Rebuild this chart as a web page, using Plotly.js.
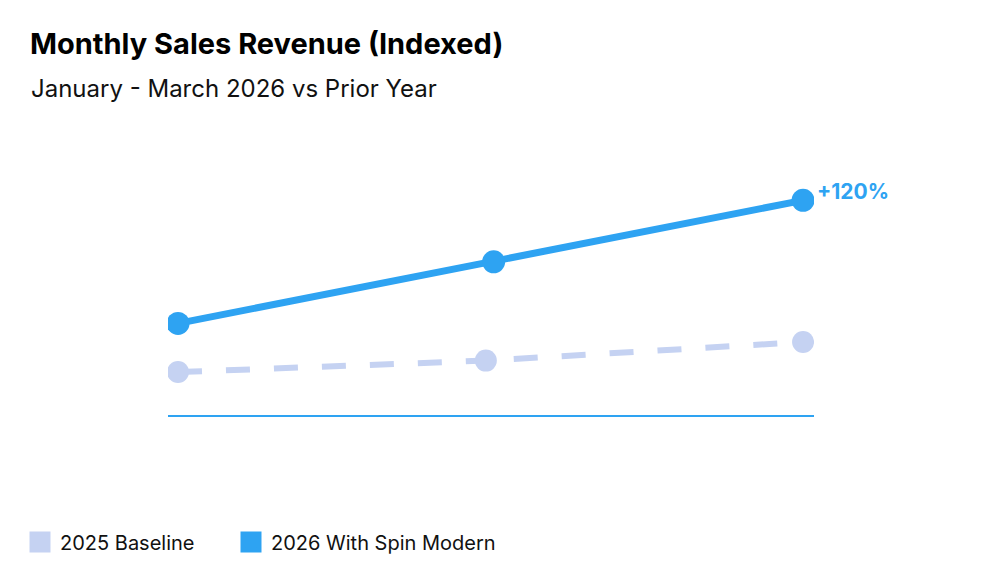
<!DOCTYPE html>
<html>
<head>
<meta charset="utf-8">
<script src="https://cdn.plot.ly/plotly-3.0.1.min.js"></script>
<style>
  html, body { margin: 0; padding: 0; background: #ffffff; }
  #chart { width: 998px; height: 581px; }
</style>
</head>
<body>
<div id="chart"></div>
<script>
// ---- data ----
var months = ["Jan", "Feb", "Mar"];
var baselineX = [0, 0.985, 2];          // plotted positions of the 2025 points
var growthX = [0, 1.01, 2];             // plotted positions of the 2026 points
var baseline2025 = [100, 108, 121];     // 2025 Baseline (indexed)
var growth2026 = [134, 177, 220];       // 2026 With Spin Modern (indexed)
var seriesNames = ["2025 Baseline", "2026 With Spin Modern"];
var endLabel = "+120%";

var baseColor = "#c5d2f2";
var growColor = "#2ea3f2";
var textFont = "Inter, 'Noto Sans', sans-serif";

var traces = [
  {
    x: baselineX, y: baseline2025, text: months,
    type: "scatter", mode: "lines+markers",
    name: seriesNames[0], legendgroup: "b", showlegend: false,
    line: { color: baseColor, width: 6, dash: "24px,24px" },
    marker: { color: baseColor, size: 22 },
    hoverinfo: "text+y"
  },
  {
    x: growthX, y: growth2026, text: months,
    type: "scatter", mode: "lines+markers",
    name: seriesNames[1], legendgroup: "g", showlegend: false,
    line: { color: growColor, width: 7 },
    marker: { color: growColor, size: 23 },
    hoverinfo: "text+y"
  },
  // legend swatches
  {
    x: [null], y: [null], type: "scatter", mode: "markers",
    name: seriesNames[0], legendgroup: "b", legend: "legend",
    marker: { color: baseColor, symbol: "square", size: 16, line: { color: baseColor, width: 5 } }
  },
  {
    x: [null], y: [null], type: "scatter", mode: "markers",
    name: seriesNames[1], legendgroup: "g", legend: "legend2",
    marker: { color: growColor, symbol: "square", size: 16, line: { color: growColor, width: 5 } }
  }
];

function legendAt(px) {
  return {
    orientation: "h", xref: "container", yref: "container",
    x: px / 998, y: 1 - 542 / 581, xanchor: "left", yanchor: "middle",
    font: { family: textFont, size: 20, color: "#111111" },
    itemclick: false, itemdoubleclick: false
  };
}

var layout = {
  width: 998, height: 581,
  paper_bgcolor: "#ffffff", plot_bgcolor: "#ffffff",
  margin: { l: 168, r: 184, t: 186, b: 166 },
  font: { family: textFont, color: "#111111" },
  title: {
    text: "Monthly Sales Revenue (Indexed)",
    font: { family: "Inter, 'Open Sans', sans-serif", size: 29, weight: 700, color: "#000000" },
    x: 30 / 998, xref: "container", xanchor: "left",
    y: 1 - 44 / 581, yref: "container", yanchor: "middle"
  },
  xaxis: {
    range: [-0.032, 2.035], showgrid: false, zeroline: false,
    showticklabels: false, ticks: "",
    showline: true, linecolor: growColor, linewidth: 1.5
  },
  yaxis: {
    range: [70, 230], showgrid: false, zeroline: false,
    showticklabels: false, ticks: "", showline: false
  },
  showlegend: true,
  legend: legendAt(20),
  legend2: legendAt(231),
  annotations: [
    {
      xref: "paper", yref: "paper", x: (29 - 168) / 646, y: 1 + (186 - 88) / 229,
      xanchor: "left", yanchor: "middle", showarrow: false,
      text: "January - March 2026 vs Prior Year",
      font: { family: textFont, size: 24, color: "#111111" }
    },
    {
      x: growthX[2], y: growth2026[2], xref: "x", yref: "y",
      xanchor: "left", yanchor: "middle", xshift: 12, yshift: 9,
      showarrow: false, text: "<b>" + endLabel + "</b>",
      font: { family: "Inter, 'Open Sans', sans-serif", size: 21, color: growColor }
    }
  ]
};

Plotly.newPlot("chart", traces, layout, { displayModeBar: false });
</script>
</body>
</html>
